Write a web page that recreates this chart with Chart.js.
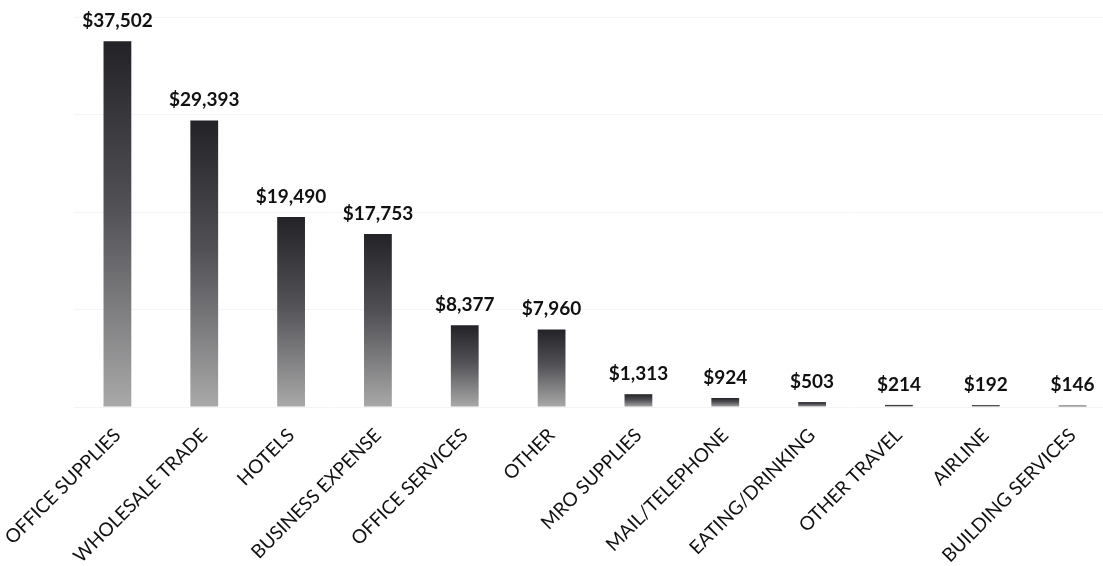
<!DOCTYPE html>
<html>
<head>
<meta charset="utf-8">
<script src="https://cdn.jsdelivr.net/npm/chart.js@4.4.1/dist/chart.umd.min.js"></script>
<style>
  html, body { margin: 0; padding: 0; background: #fff; overflow: hidden; }
  #wrap { position: absolute; left: 0; top: 0; width: 1160px; height: 566px; }
</style>
</head>
<body>
<div id="wrap"><canvas id="c" width="1160" height="566"></canvas></div>
<script>
const categories = ["OFFICE SUPPLIES", "WHOLESALE TRADE", "HOTELS", "BUSINESS EXPENSE", "OFFICE SERVICES", "OTHER", "MRO SUPPLIES", "MAIL/TELEPHONE", "EATING/DRINKING", "OTHER TRAVEL", "AIRLINE", "BUILDING SERVICES"];
const spendValues = [37502, 29393, 19490, 17753, 8377, 7960, 1313, 924, 503, 214, 192, 146];
const yTicks = [0, 10000, 20000, 30000, 40000];

const fmt = v => "$" + v.toLocaleString("en-US");

function barGradient(ctx) {
  const chart = ctx.chart;
  const area = chart.chartArea;
  if (!area || ctx.type !== "data") return "#555";
  const y = chart.scales.y;
  const top = y.getPixelForValue(ctx.raw);
  const base = y.getPixelForValue(0);
  const g = chart.ctx.createLinearGradient(0, top, 0, base);
  g.addColorStop(0, "#222227");
  g.addColorStop(0.45, "#505055");
  g.addColorStop(1, "#a9a9a9");
  return g;
}

const labelPlugin = {
  id: "valueLabels",
  afterDatasetsDraw(chart) {
    const ctx = chart.ctx;
    const meta = chart.getDatasetMeta(0);
    ctx.save();
    ctx.font = "bold 19px Lato, 'Open Sans', sans-serif";
    ctx.fillStyle = "#111";
    ctx.textAlign = "center";
    ctx.textBaseline = "bottom";
    meta.data.forEach((el, i) => {
      ctx.fillText(fmt(spendValues[i]), el.x, el.y - 11);
    });
    ctx.restore();
  }
};

new Chart(document.getElementById("c"), {
  type: "bar",
  data: {
    labels: categories,
    datasets: [{
      data: spendValues,
      backgroundColor: barGradient,
      borderWidth: 0,
      barPercentage: 0.32,
      categoryPercentage: 1.0
    }]
  },
  options: {
    responsive: false,
    animation: false,
    layout: { padding: { left: 74, right: 44, top: 17, bottom: 0 } },
    plugins: { legend: { display: false }, tooltip: { enabled: false } },
    scales: {
      x: {
        grid: { display: false },
        border: { display: false },
        ticks: {
          autoSkip: false,
          minRotation: 45,
          maxRotation: 45,
          padding: 9,
          color: "#111",
          font: { family: "Lato, 'Open Sans', sans-serif", size: 19 }
        },
        afterFit(s) { s.height = 159; s.paddingLeft = 0; s.paddingRight = 0; }
      },
      y: {
        display: true,
        min: 0,
        max: 40000,
        afterBuildTicks(s) { s.ticks = yTicks.map(v => ({ value: v })); },
        grid: { color: "#f4f4f4", drawTicks: false },
        border: { display: false },
        ticks: { display: false },
        afterFit(s) { s.width = 0; }
      }
    }
  },
  plugins: [labelPlugin]
});
</script>
</body>
</html>
